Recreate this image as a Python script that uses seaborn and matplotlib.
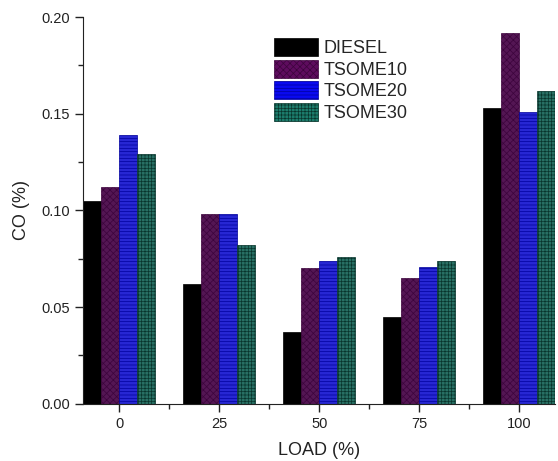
import seaborn as sns
import matplotlib.pyplot as plt
import pandas as pd
from matplotlib.ticker import MultipleLocator
from matplotlib.patches import Patch

loads = ['0', '25', '50', '75', '100']
fuels = ['DIESEL', 'TSOME10', 'TSOME20', 'TSOME30']
diesel = [0.105, 0.062, 0.037, 0.045, 0.153]
tsome10 = [0.112, 0.098, 0.070, 0.065, 0.192]
tsome20 = [0.139, 0.098, 0.074, 0.071, 0.151]
tsome30 = [0.129, 0.082, 0.076, 0.074, 0.162]

fills = ['#000000', '#5e0c5e', '#0a0af0', '#1c7c6c']
edges = ['#000000', '#3c043c', '#00009c', '#08352c']
hatches = [None, 'xxxxx', '-----', '+++++']

df = pd.DataFrame({
    'LOAD': loads * 4,
    'Fuel': sum([[f] * len(loads) for f in fuels], []),
    'CO': diesel + tsome10 + tsome20 + tsome30,
})

sns.set_style('ticks')
plt.rcParams['font.family'] = ['Liberation Sans', 'DejaVu Sans']
plt.rcParams['hatch.linewidth'] = 0.5

fig = plt.figure(figsize=(5.58, 4.61), dpi=100)
ax = fig.add_axes([0.149, 0.124, 0.846, 0.839])

sns.barplot(data=df, x='LOAD', y='CO', hue='Fuel', order=loads,
            hue_order=fuels, palette=fills, width=0.72, gap=0,
            linewidth=0.5, ax=ax, legend=False)

# hatch colour follows edge colour
for i, cont in enumerate(ax.containers):
    for bar in cont:
        bar.set_edgecolor(edges[i])
        if hatches[i]:
            bar.set_hatch(hatches[i])

ax.set_xlim(-0.36, 4.36)
ax.set_ylim(0, 0.20)
ax.yaxis.set_major_locator(MultipleLocator(0.05))
ax.yaxis.set_minor_locator(MultipleLocator(0.025))
ax.set_xticks(range(len(loads)))
ax.set_xticks([i + 0.5 for i in range(len(loads) - 1)], minor=True)
ax.set_xticklabels(loads)
ax.yaxis.set_major_formatter(plt.FormatStrFormatter('%.2f'))
ax.tick_params(which='major', length=6, width=1, labelsize=10.5, color='#222222', labelcolor='#222222')
ax.tick_params(which='minor', length=3.5, width=1, color='#222222')
ax.set_xlabel('LOAD (%)', fontsize=13, color='#222222', labelpad=8)
ax.set_ylabel('CO (%)', fontsize=13, color='#222222', labelpad=8)
sns.despine(ax=ax)
for s in ['left', 'bottom']:
    ax.spines[s].set_color('#222222')

handles = [Patch(facecolor=fills[i], edgecolor=edges[i], hatch=hatches[i], linewidth=0.5)
           for i in range(len(fuels))]
ax.legend(handles, fuels, loc='upper left', bbox_to_anchor=(0.39, 0.965), frameon=False,
          fontsize=13, handlelength=2.4, handleheight=1.15, labelspacing=0.15,
          handletextpad=0.3, borderaxespad=0)

fig.savefig('out.png', dpi=100)
